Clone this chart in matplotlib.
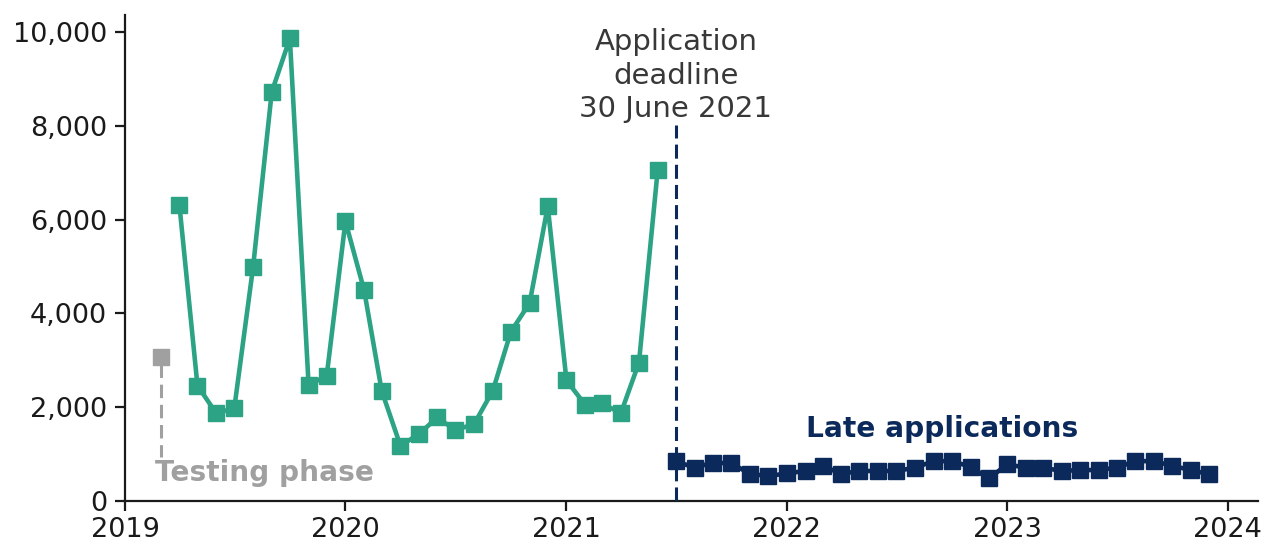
import matplotlib.pyplot as plt
import pandas as pd

plt.rcParams['font.family'] = ['DejaVu Sans']

# data (monthly applications)
testing_month = ['2019-03-01']
testing_value = [3060]

green_months = pd.date_range('2019-04-01', '2021-06-01', freq='MS')
green_values = [6320, 2460, 1870, 1980, 4980, 8720, 9860, 2470, 2670,
                5960, 4490, 2350, 1180, 1420, 1780, 1510, 1640, 2350, 3610, 4220, 6280,
                2570, 2050, 2080, 1870, 2950, 7050]

navy_months = pd.date_range('2021-07-01', '2023-12-01', freq='MS')
navy_values = [850, 710, 820, 800, 580, 530,
               590, 640, 750, 580, 640, 640, 640, 710, 850, 850, 730, 480,
               780, 710, 710, 640, 660, 660, 710, 850, 850, 750, 660, 570]

year_ticks = [2019, 2020, 2021, 2022, 2023, 2024]
y_ticks = [0, 2000, 4000, 6000, 8000, 10000]

green = '#2ba384'
navy = '#0b2a5b'
grey = '#a0a0a0'

fig = plt.figure(figsize=(12.64, 5.42), dpi=100)
ax = fig.add_axes([125 / 1264, 41 / 542, (1258 - 125) / 1264, (501 - 15) / 542])

ax.plot(green_months, green_values, color=green, lw=3.3,
        marker='s', ms=11.5, zorder=3)
ax.plot(navy_months, navy_values, color=navy, lw=3.3,
        marker='s', ms=11.5, zorder=3)
t = pd.to_datetime(testing_month)
ax.plot(t, testing_value, color=grey, marker='s', ms=11, ls='none', zorder=3)
# 测试阶段的虚线
ax.plot([t[0], t[0]], [testing_value[0] - 150, 940], color=grey, lw=2.2,
        ls=(0, (4.4, 2.2)), zorder=2)

# deadline line
deadline = pd.Timestamp('2021-07-01')
ax.plot([deadline, deadline], [0, 8020], color=navy, lw=2.2, ls=(0, (4.6, 2)), zorder=4)
ax.text(deadline, 8190, 'Application\ndeadline\n30 June 2021', ha='center', va='baseline',
        fontsize=21, color='#383838', linespacing=1.24)

ax.text(pd.Timestamp('2022-02-01'), 1540, 'Late applications', color=navy,
        fontsize=20.2, fontweight='bold', ha='left', va='center')
ax.text(pd.Timestamp('2019-02-20'), 600, 'Testing phase', color=grey,
        fontsize=20.2, fontweight='bold', ha='left', va='center')

ax.set_xlim(pd.Timestamp('2019-01-01'), pd.Timestamp('2024-02-20'))
ax.set_ylim(0, 10360)
ax.set_xticks([pd.Timestamp(f'{y}-01-01') for y in year_ticks])
ax.set_xticklabels([str(y) for y in year_ticks])
ax.set_yticks(y_ticks)
ax.set_yticklabels([f'{v:,}' for v in y_ticks])
ax.tick_params(labelsize=19.5, length=7, width=1.6, color='#1a1a1a', labelcolor='#1a1a1a')
ax.tick_params(axis='y', pad=6)
ax.tick_params(axis='x', pad=4.5)

for s in ['top', 'right']:
    ax.spines[s].set_visible(False)
for s in ['left', 'bottom']:
    ax.spines[s].set_linewidth(1.6)
    ax.spines[s].set_color('#1a1a1a')

fig.savefig('out.png', dpi=100)
